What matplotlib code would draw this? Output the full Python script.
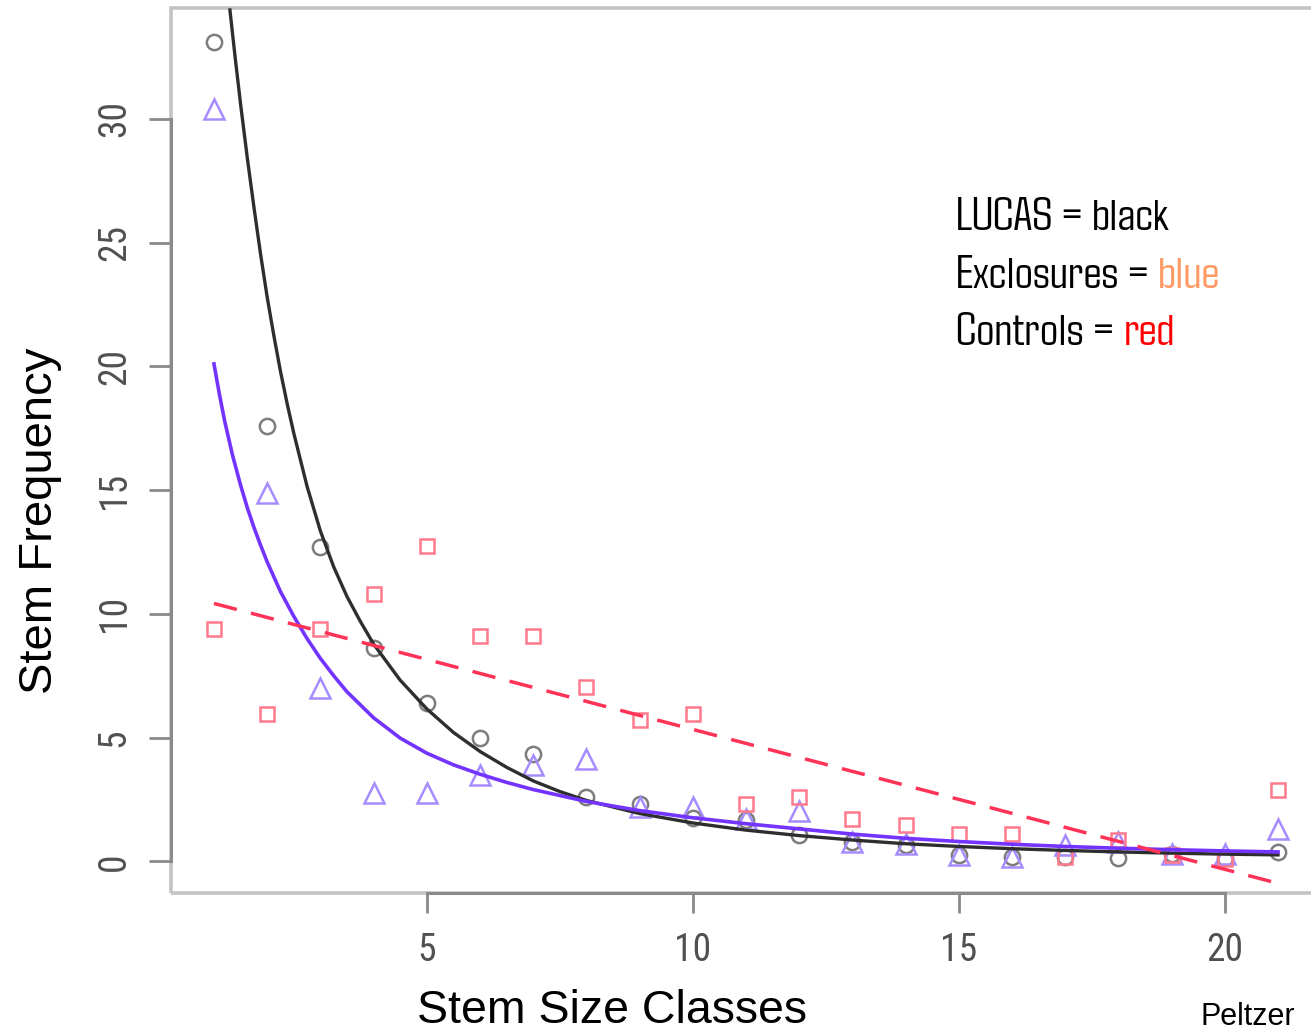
import matplotlib
matplotlib.use("Agg")
import matplotlib.pyplot as plt
from matplotlib import font_manager as fm
from matplotlib.patches import Rectangle

# ---------------- data ----------------
size_class = list(range(1, 22))
lucas = [33.1, 17.6, 12.7, 8.6, 6.4, 5.0, 4.35, 2.6, 2.3, 1.75, 1.65, 1.05,
         0.8, 0.65, 0.25, 0.17, 0.17, 0.12, 0.3, 0.12, 0.37]
exclosures = [30.4, 14.9, 7.0, 2.75, 2.75, 3.5, 3.9, 4.15, 2.2, 2.2, 1.7, 2.05,
              0.8, 0.72, 0.25, 0.17, 0.65, 0.8, 0.3, 0.28, 1.3]
controls = [9.4, 5.95, 9.4, 10.8, 12.75, 9.1, 9.1, 7.05, 5.7, 5.95, 2.33, 2.6,
            1.72, 1.45, 1.12, 1.12, 0.17, 0.85, 0.24, 0.08, 2.87]

# fitted curves
lucas_fit_x = [1.30, 1.40, 1.50, 1.625, 1.75, 1.875, 2.0, 2.125, 2.25, 2.375, 2.5,
               2.75, 3.0, 3.25, 3.5, 3.75, 4.0, 4.5, 5.0, 5.5, 6.0, 6.5, 7.0,
               7.5, 8.0, 9.0, 10, 11, 12, 13, 14, 15, 16, 17, 18, 19, 20, 21]
lucas_fit_y = [34.4, 32.45, 30.6, 28.45, 26.45, 24.55, 22.8, 21.25, 19.8, 18.5,
               17.3, 15.15, 13.35, 11.9, 10.7, 9.7, 8.78, 7.32, 6.16, 5.21, 4.44,
               3.8, 3.25, 2.82, 2.46, 1.93, 1.55, 1.26, 1.04, 0.86, 0.71, 0.6,
               0.51, 0.44, 0.38, 0.33, 0.29, 0.26]
excl_fit_x = [1.0, 1.1, 1.2, 1.35, 1.5, 1.625, 1.75, 1.875, 2.0, 2.25, 2.5, 2.75,
              3.0, 3.25, 3.5, 4.0, 4.5, 5.0, 5.5, 6.0, 6.5, 7.0, 8.0, 9.0, 10, 11,
              12, 13, 14, 15, 16, 17, 18, 19, 20, 21]
excl_fit_y = [20.1, 18.9, 17.8, 16.4, 15.2, 14.3, 13.5, 12.78, 12.1, 10.9, 9.9,
              9.0, 8.2, 7.5, 6.85, 5.8, 4.98, 4.37, 3.9, 3.52, 3.19, 2.9, 2.42,
              2.05, 1.76, 1.52, 1.31, 1.1, 0.93, 0.8, 0.69, 0.6, 0.53, 0.47,
              0.42, 0.38]
ctrl_fit_x = [1, 21]
ctrl_fit_y = [10.42, -0.89]

x_ticks = [5, 10, 15, 20]
y_ticks = [0, 5, 10, 15, 20, 25, 30]

legend_lines = [("LUCAS = ", "black", "#000000"),
                ("Exclosures = ", "blue", "#ff9a66"),
                ("Controls = ", "red", "#ff0000")]

# ---------------- fonts ----------------
names = {f.name for f in fm.fontManager.ttflist}


def pick(*cands):
    for c in cands:
        if c in names:
            return c
    return "DejaVu Sans"


narrow = pick("Liberation Sans Narrow", "Arimo Narrow", "Roboto Condensed",
              "DejaVu Sans Condensed", "Liberation Sans")
sans = pick("Liberation Sans", "Arimo", "Arial", "DejaVu Sans")
agency = pick("Agdasima", "Saira Extra Condensed", "Pathway Gothic One",
              "Yanone Kaffeesatz", narrow)

# ---------------- figure ----------------
W, H = 1311, 1032
fig = plt.figure(figsize=(W / 100, H / 100), dpi=100)
ax = fig.add_axes([171.4 / W, (H - 893) / H, 1149.2 / W, 885 / H])
ax.set_xlim(0.2, 21.8)
ax.set_ylim(-1.28, 34.48)

ax.plot(size_class, lucas, linestyle="none", marker="o", ms=11, mfc="none",
        mec="#7d7d7d", mew=1.8, zorder=3)
ax.plot(size_class, exclosures, linestyle="none", marker="^", ms=14, mfc="none",
        mec="#a68cff", mew=1.8, zorder=3)
ax.plot(size_class, controls, linestyle="none", marker="s", ms=10.5, mfc="none",
        mec="#ff7a8c", mew=1.8, zorder=3)

ax.plot(lucas_fit_x, lucas_fit_y, color="#2e2e2e", lw=2.4, zorder=4,
        solid_joinstyle="round")
ax.plot(excl_fit_x, excl_fit_y, color="#7434ff", lw=2.6, zorder=5,
        solid_joinstyle="round")
ax.plot(ctrl_fit_x, ctrl_fit_y, color="#ff3358", lw=2.5, zorder=6,
        linestyle=(0, (6.8, 4.2)))

# frame (R style: light box + darker axis lines)
for s in ["top", "right"]:
    ax.spines[s].set_visible(False)
for s in ["left", "bottom"]:
    ax.spines[s].set_color("#8a8a8a")
    ax.spines[s].set_linewidth(2.2)
    ax.spines[s].set_zorder(2)
ax.spines["left"].set_bounds(0, 30)
ax.spines["bottom"].set_bounds(5, 20)
ax.add_patch(Rectangle((0, 0), 1, 1, transform=ax.transAxes, fill=False,
                       edgecolor="#c4c4c4", lw=2.6, clip_on=False, zorder=1))

ax.set_xticks(x_ticks)
ax.set_yticks(y_ticks)
ax.set_xticklabels([str(v) for v in x_ticks])
ax.set_yticklabels([str(v) for v in y_ticks], rotation=90, va="center")
tick_fs = 27 if narrow != "Liberation Sans" else 21
ax.tick_params(axis="x", length=14.4, width=2, color="#8a8a8a", pad=14,
               labelsize=tick_fs, labelcolor="#505050")
ax.tick_params(axis="y", length=15.8, width=2, color="#8a8a8a", pad=12,
               labelsize=tick_fs, labelcolor="#505050")
for lab in ax.get_xticklabels() + ax.get_yticklabels():
    lab.set_family(narrow)

# axis titles
fig.text(52 / W, 1 - 521 / H, "Stem Frequency", rotation=90, rotation_mode="anchor",
         ha="center", va="baseline", fontsize=34, family=sans)
fig.text(611.6 / W, 1 - 1023 / H, "Stem Size Classes", ha="center", va="baseline",
         fontsize=33.5, family=sans)
fig.text(1200.7 / W, 1 - 1025 / H, "Peltzer", ha="left", va="baseline",
         fontsize=22, family=sans)

# coloured legend text, sized so the middle line spans the same width as the reference
renderer = fig.canvas.get_renderer()
probe = fig.text(0, 0, "Exclosures = blue", fontsize=30, family=agency)
pw = probe.get_window_extent(renderer).width
probe.remove()
leg_fs = 30 * 264.0 / pw

baselines = [230, 288, 345]
for (lead, word, col), yb in zip(legend_lines, baselines):
    x0 = 956 / W
    y0 = 1 - yb / H
    tmp = fig.text(x0, y0, lead + word, ha="left", va="baseline", fontsize=leg_fs,
                   family=agency)
    bb = tmp.get_window_extent(renderer)
    tmp.remove()
    fig.text(x0, y0, lead.rstrip(), ha="left", va="baseline", fontsize=leg_fs,
             family=agency, color="black")
    fig.text(bb.x1 / W, y0, word, ha="right", va="baseline", fontsize=leg_fs,
             family=agency, color=col)

fig.savefig("out.png", dpi=100)
